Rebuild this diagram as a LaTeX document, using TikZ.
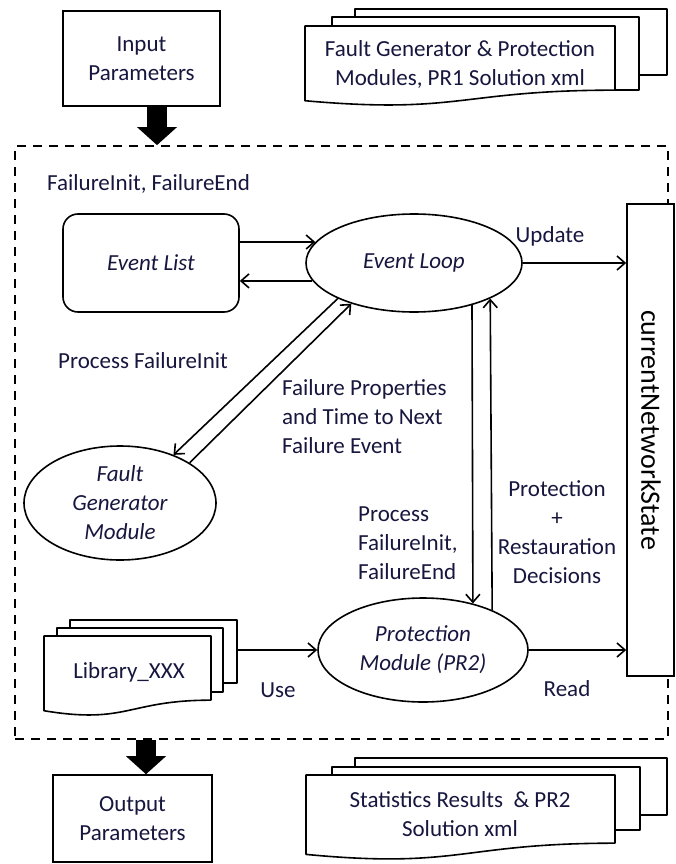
\documentclass[tikz,border=0pt]{standalone}
\usepackage{fontspec}
\setmainfont{Carlito}
\usetikzlibrary{arrows.meta,shapes.geometric,calc}
\definecolor{ink}{RGB}{22,22,62}

% front sheet of a document stack: top-left corner, width, height (y grows downward)
\newcommand\docsheet[4]{(#1,#2) -- (#1+#3,#2) -- (#1+#3,#2+0.802*#4)
  .. controls (#1+0.5*#3,#2+0.802*#4) and (#1+0.5*#3,#2+1.107*#4) .. (#1,#2+0.934*#4) -- cycle}

\begin{document}
\begin{tikzpicture}[x=1pt,y=-1pt,
  every node/.style={font=\fontsize{23}{29}\selectfont, text=ink, inner sep=0pt, align=center},
  box/.style={draw=black, line width=1.6pt, fill=white},
  oval/.style={draw=black, line width=1.6pt, ellipse, inner sep=0pt, fill=white},
  link/.style={draw=black, line width=1.6pt, -{Straight Barb[length=8pt,width=14pt,line width=1.6pt]}},
  bigarrow/.style={line width=20pt, -{Triangle[length=18pt,width=40pt,line width=0pt]}},
  sheet/.style={draw=black, line width=1.6pt, fill=white, line join=round},
  frame/.style={draw=black, line width=1.8pt, dash pattern=on 9pt off 7pt}
]
\useasboundingbox (0,0) rectangle (675,864);

% simulation frame
\node[frame, minimum width=653pt, minimum height=593pt] (frame) at (341.5,442.5) {};

% inputs and outputs
\node[box, minimum width=157pt, minimum height=95pt] (inp) at (141.5,58.5) {Input\\Parameters};
\node[box, minimum width=159pt, minimum height=87pt] (out) at (132.5,818.5) {Output\\Parameters};

\draw[bigarrow] ($(inp.south)+(15.5,0)$) -- ($(inp.south |- frame.north)+(15.5,0)$);
\draw[bigarrow] ($(out.north |- frame.south)+(13.5,0)$) -- ($(out.north)+(13.5,0)$);

% document stacks
\draw[sheet] (355,9) rectangle (667,75);
\draw[sheet] (332,17) rectangle (639,90);
\draw[sheet] \docsheet{305}{26}{310}{80};
\node (modules) at (460,64.5) {Fault Generator \& Protection\\Modules, PR1 Solution xml};

\draw[sheet] (355,758) rectangle (667,815);
\draw[sheet] (332,767) rectangle (640,830);
\draw[sheet] \docsheet{306}{775}{309}{85};
\node (stats) at (460,814) {Statistics Results \ \& PR2\\Solution xml};

\draw[sheet] (70,620) rectangle (237,683);
\draw[sheet] (57,628) rectangle (223,692);
\draw[sheet] \docsheet{44}{636}{167}{80};
\node (libtext) at (129,672) {Library\_XXX};
\node[minimum width=193pt, minimum height=96pt] (lib) at (140.5,668) {};

% main blocks
\node[box, rounded corners=15pt, minimum width=176pt, minimum height=98pt] (elist) at (151,263) {\textit{Event List}};
\node[oval, minimum width=216pt, minimum height=98pt] (loop) at (414,263) {\textit{Event Loop}};
\node[oval, minimum width=192pt, minimum height=114pt] (fault) at (120,503) {\textit{Fault}\\\textit{Generator}\\\textit{Module}};
\node[oval, minimum width=210pt, minimum height=104pt] (prot) at (423,650) {\textit{Protection}\\\textit{Module (PR2)}};
\node[box, minimum width=47pt, minimum height=472pt] (state) at (650.5,440) {};
\node[rotate=-90, text=black, font=\fontsize{28}{32}\selectfont] (statetext) at (651,430) {currentNetworkState};

% connectors
\draw[link] (elist.east |- loop.168.6) -- (loop.168.6);
\draw[link] (loop.190.8) -- (elist.east |- loop.190.8);
\draw[link] (loop.205.1) -- (fault.42.7);
\draw[link] (fault.30.4) -- (loop.213.3);
\draw[link] (loop.324.5) -- (prot.43.2);
\draw[link] (prot.30.8) -- (loop.335.4);
\draw[link] (loop.east) -- (state.west |- loop.east);
\draw[link] (prot.east) -- (state.west |- prot.east);
\draw[link] (lib.east |- prot.west) -- (prot.west);

% labels
\node[anchor=west] (lfail) at (47,184) {FailureInit, FailureEnd};
\node[anchor=west] (lproc) at (58,361) {Process FailureInit};
\node[anchor=west, align=left] (lprops) at (282,417) {Failure Properties\\and Time to Next\\Failure Event};
\node[anchor=west, align=left] (lproc2) at (358,543) {Process\\FailureInit,\\FailureEnd};
\node (ldec) at (557,532) {Protection\\+\\Restauration\\Decisions};
\node (lupd) at (550,236) {Update};
\node (luse) at (278,690) {Use};
\node (lread) at (567,689) {Read};
\end{tikzpicture}
\end{document}
